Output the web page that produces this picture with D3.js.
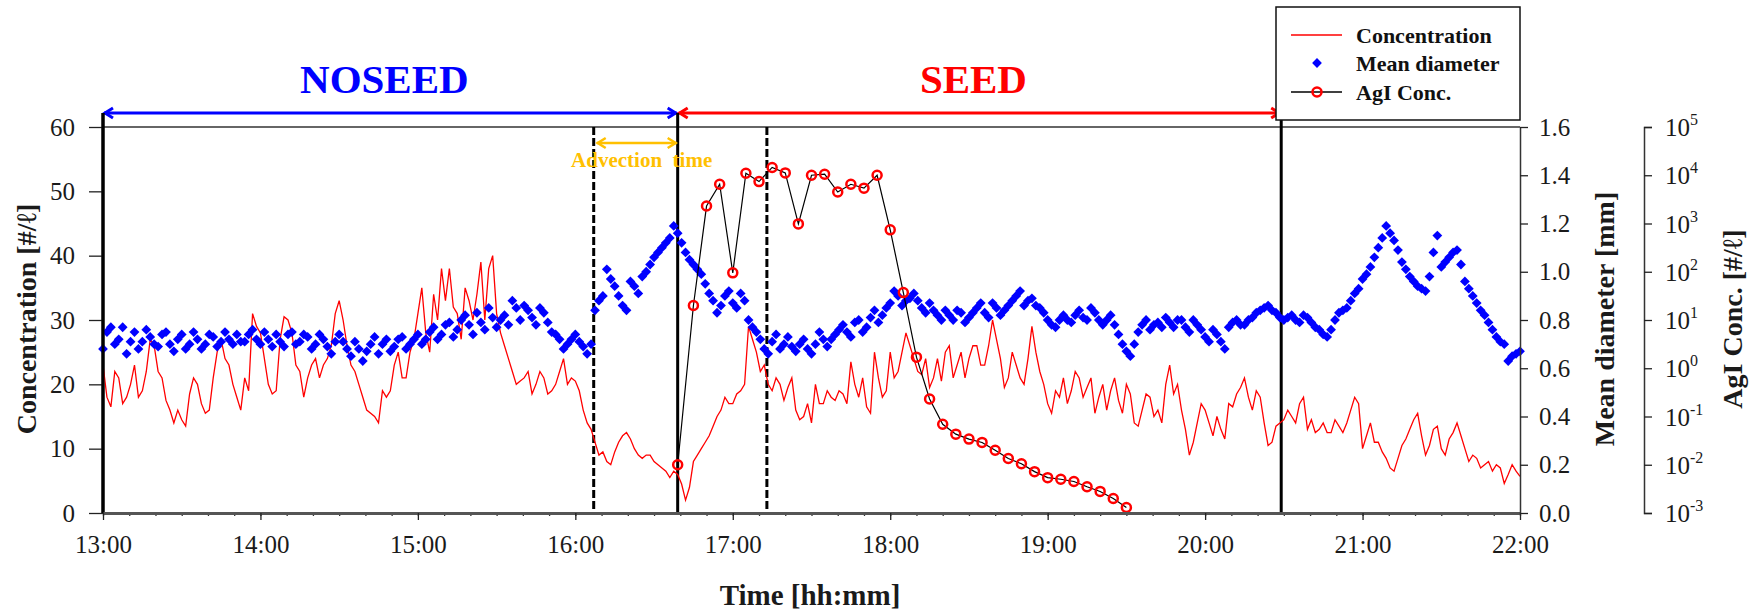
<!DOCTYPE html>
<html>
<head>
<meta charset="utf-8">
<script src="https://cdn.jsdelivr.net/npm/d3@7"></script>
<style>
body { margin:0; background:#fff; }
svg { display:block; }
</style>
</head>
<body>
<script>
// seeding experiment chart, d3 v7
var w = 1758, h = 610;
var m = {left:103, right:1520, top:127, bottom:513};
var serif = "'Liberation Serif','Times New Roman',serif";

// time axis
var timeStart = "13:00", timeEnd = "22:00";
var stepMin = 3; // spacing of the on-step samples; the *Mid arrays sit half way between
var hourTicks = ["13:00","14:00","15:00","16:00","17:00","18:00","19:00","20:00","21:00","22:00"];

// Concentration [#/l], samples at 13:00, 13:03, ...
var concentration = [
  23,16.5,21,18,23,19,27,22,17.5,14,
  14.5,18.5,20,15.5,21,27,23,18,21,31,
  28,20,19,30.5,28,22,21,24,23,26,
  33,26,22,18,15.5,14,18,23,21,25,
  31,28,34,38,38,31,35,30,39,38,
  31,26,22,20.5,22,20,21,19,22,20,
  20.5,16,13,9,8,9.5,12,11.5,9,9,
  8,7,5.5,6,2,8,10,12,15,18,
  17,19,29,25,23,19,20,19.5,16,15,
  14,17,19,17.5,18.5,23.5,18,16.5,25,18,
  25,22,28,24,21.5,19.5,24,25,21,25,
  24,26,23,30,24,21,23,20,29,22,
  17,19,21,19,21,19.5,15.5,20,19,17.5,
  20,14,16,18,16,20,18.5,16,9,14,
  16,12,13,17,18.5,21,16,18,10.5,13.5,
  14.5,15,17,13,12.5,14,12.5,13.5,14,18,
  10,14,11,8.5,6.5,10.5,13,15.5,9,13,
  10,11.5,14,10,9,7,8,7.5,4.6,7.5,
  5.7
];
// Concentration at 13:01:30, 13:04:30, ...
var concentrationMid = [
  18,22,17,20,18,22,26,21,16,16,
  13.5,21,17,16,25,24,20,16,19,29,
  24,18.5,27,30,23,18,23,21,24,31,
  30,23,20,16,15,19,19,25,21,27,
  35,25,30,33,32,27,33,34,30,40,
  28,24,20,21,18.5,22,18.5,20,24,21,
  19,14,11,9.5,7.5,11,12.5,10,8.5,9,
  7.5,6.5,6.5,4.5,4,9,11,13.5,16,17,
  18.5,20,27,22,20,21,17.5,21,14.5,17,
  20,17,18,19,17,20,21,15.5,21,19,
  21,25,26,22,24,21,20.5,26,23,21,
  26,23,26,27,19.5,25,21,24,25,20,
  15.5,18,17,22,18,21,18,16,21,15.5,
  18.5,13.5,18.5,15,14,23,20,13,11,17,
  14,15,11.5,16.5,19.5,18,19,14,11,14,
  16,14,18,14.5,13,12.5,14.5,12.5,16,17,
  12,11,9.5,7,8.5,11.5,14.5,12,10.5,13.5,
  9,12.5,12,8,8.5,7.5,6.5,7,6,6.5
];

// Mean diameter [mm], samples at 13:00, 13:03, ...
var meanDiameter = [
  0.68,0.77,0.72,0.66,0.75,0.71,0.73,0.69,0.75,0.67,
  0.74,0.70,0.72,0.70,0.73,0.71,0.72,0.74,0.71,0.76,
  0.70,0.72,0.74,0.69,0.75,0.71,0.73,0.70,0.72,0.66,
  0.74,0.68,0.71,0.63,0.70,0.66,0.72,0.69,0.73,0.70,
  0.74,0.72,0.77,0.74,0.79,0.76,0.82,0.74,0.79,0.85,
  0.77,0.82,0.88,0.80,0.84,0.78,0.83,0.75,0.72,0.70,
  0.74,0.69,0.70,0.88,1.01,0.94,0.86,0.96,0.91,1.00,
  1.06,1.10,1.14,1.16,1.08,1.03,0.99,0.91,0.83,0.90,
  0.87,0.91,0.80,0.75,0.68,0.71,0.68,0.73,0.67,0.72,
  0.66,0.75,0.69,0.74,0.78,0.73,0.80,0.77,0.84,0.82,
  0.87,0.90,0.88,0.91,0.85,0.87,0.82,0.84,0.80,0.83,
  0.81,0.85,0.83,0.87,0.82,0.86,0.90,0.86,0.89,0.85,
  0.80,0.77,0.82,0.79,0.84,0.80,0.83,0.78,0.82,0.74,
  0.67,0.70,0.78,0.76,0.79,0.81,0.77,0.80,0.75,0.78,
  0.73,0.76,0.71,0.77,0.80,0.78,0.81,0.84,0.86,0.83,
  0.80,0.82,0.79,0.81,0.77,0.74,0.76,0.83,0.85,0.91,
  0.97,1.02,1.10,1.19,1.13,1.04,0.98,0.94,0.92,1.08,
  1.02,1.06,1.09,0.96,0.90,0.84,0.79,0.73,0.70,0.65,
  0.67
];
// Mean diameter at 13:01:30, 13:04:30, ...
var meanDiameterMid = [
  0.75,0.70,0.77,0.71,0.68,0.76,0.70,0.74,0.70,0.72,
  0.68,0.75,0.68,0.74,0.69,0.75,0.70,0.71,0.74,0.72,
  0.75,0.69,0.71,0.74,0.70,0.74,0.68,0.74,0.69,0.71,
  0.71,0.65,0.68,0.67,0.73,0.70,0.67,0.72,0.68,0.72,
  0.70,0.75,0.72,0.78,0.73,0.80,0.78,0.83,0.76,0.81,
  0.80,0.78,0.85,0.86,0.81,0.85,0.79,0.74,0.68,0.72,
  0.71,0.66,0.84,0.90,0.97,0.90,0.84,0.94,0.98,1.03,
  1.08,1.12,1.19,1.12,1.05,1.01,0.95,0.88,0.86,0.92,
  0.85,0.88,0.77,0.72,0.66,0.74,0.70,0.69,0.70,0.68,
  0.70,0.72,0.72,0.76,0.75,0.79,0.75,0.81,0.79,0.85,
  0.92,0.86,0.89,0.88,0.83,0.84,0.80,0.82,0.84,0.79,
  0.83,0.87,0.81,0.85,0.84,0.88,0.92,0.88,0.86,0.83,
  0.78,0.80,0.80,0.82,0.81,0.85,0.80,0.80,0.78,0.70,
  0.65,0.75,0.80,0.78,0.77,0.79,0.80,0.77,0.80,0.76,
  0.71,0.74,0.68,0.79,0.78,0.80,0.83,0.85,0.84,0.81,
  0.81,0.80,0.82,0.79,0.76,0.73,0.80,0.84,0.88,0.93,
  0.99,1.06,1.14,1.16,1.09,1.01,0.96,0.93,0.98,1.15,
  1.04,1.08,1.03,0.93,0.87,0.82,0.76,0.71,0.63,0.66
];

// AgI concentration [#/l]
var agiTimes = ["16:39","16:45","16:50","16:55","17:00","17:05","17:10","17:15","17:20","17:25",
  "17:30","17:35","17:40","17:45","17:50","17:55","18:00","18:05","18:10","18:15",
  "18:20","18:25","18:30","18:35","18:40","18:45","18:50","18:55","19:00","19:05",
  "19:10","19:15","19:20","19:25","19:30"];
var agiConc = [0.01,20,2300,6500,95,11000,7400,14500,11200,980,
  10000,10500,4500,6500,5400,10000,740,37,1.7,0.23,
  0.069,0.043,0.034,0.029,0.020,0.0135,0.0105,0.0072,0.0054,0.0050,
  0.0045,0.0035,0.0028,0.0020,0.0013];

var concTicks = [0,10,20,30,40,50,60];
var diamTicks = [0,0.2,0.4,0.6,0.8,1.0,1.2,1.4,1.6];
var agiExp = [-3,-2,-1,0,1,2,3,4,5];

// period markers
var markerTimes = ["13:00","16:07","16:39","17:13","20:29"];
var markerKinds = ["solid","dash","solid","dash","solid"];
var periods = [
  {label:"NOSEED", from:"13:00", to:"16:39", color:"#0000FF"},
  {label:"SEED", from:"16:39", to:"20:29", color:"#FF0000"}
];
var advection = {label:"Advection  time", from:"16:07", to:"16:39", color:"#FFC000"};

var legendItems = ["Concentration","Mean diameter","AgI Conc."];

var parseT = d3.timeParse("%H:%M");
var t0 = parseT(timeStart);

// merge on-step and half-step samples into one time ordered table
function merged(onStep, mid){
  var out = [];
  onStep.forEach(function(v,i){
    out.push({t:d3.timeSecond.offset(t0, i*stepMin*60), v:v});
    if (i < mid.length) out.push({t:d3.timeSecond.offset(t0, i*stepMin*60 + stepMin*30), v:mid[i]});
  });
  return out;
}
var concData = merged(concentration, concentrationMid);
var diamData = merged(meanDiameter, meanDiameterMid);

var x = d3.scaleTime().domain([t0, parseT(timeEnd)]).range([m.left, m.right]);
var yC = d3.scaleLinear().domain([0,60]).range([m.bottom, m.top]);
var yD = d3.scaleLinear().domain([0,1.6]).range([m.bottom, m.top]);
var yA = d3.scaleLog().domain([1e-3,1e5]).range([m.bottom, m.top]);

var svg = d3.select("body").append("svg").attr("width",w).attr("height",h);

// top frame line
svg.append("line")
  .attr("x1",m.left).attr("x2",m.right).attr("y1",m.top).attr("y2",m.top)
  .attr("stroke","#333").attr("stroke-width",1.5);

// arrows drawn as line + open heads
function arrow(x1, x2, y, color, sw){
  var g = svg.append("g").attr("stroke",color).attr("stroke-width",sw).attr("fill","none");
  g.append("line").attr("x1",x1).attr("x2",x2).attr("y1",y).attr("y2",y);
  g.append("polyline").attr("points",[[x1+9,y-5],[x1+1,y],[x1+9,y+5]].join(" "));
  g.append("polyline").attr("points",[[x2-9,y-5],[x2-1,y],[x2-9,y+5]].join(" "));
}
var arrowY = 113;
periods.forEach(function(p){
  var x1 = x(parseT(p.from)), x2 = x(parseT(p.to));
  arrow(x1+1, x2-1, arrowY, p.color, 3);
  svg.append("text").attr("x",(x1+x2)/2 - 6).attr("y",93)
    .attr("text-anchor","middle").attr("font-size","41px").attr("font-weight","bold")
    .attr("fill",p.color).text(p.label);
});

// vertical period markers
markerTimes.forEach(function(t,i){
  var xx = x(parseT(t));
  svg.append("line")
    .attr("x1",xx).attr("x2",xx)
    .attr("y1", markerKinds[i]=="solid" ? arrowY : m.top)
    .attr("y2",m.bottom)
    .attr("stroke","#000")
    .attr("stroke-width",3)
    .attr("stroke-dasharray", markerKinds[i]=="dash" ? "8,3" : null);
});

// advection time arrow
(function(){
  var x1 = x(parseT(advection.from)), x2 = x(parseT(advection.to));
  arrow(x1+3, x2-1, 143, advection.color, 2.5);
  svg.append("text").attr("x",(x1+x2)/2+6).attr("y",167)
    .attr("text-anchor","middle").attr("font-size","21px").attr("font-weight","bold")
    .style("white-space","pre")
    .attr("fill",advection.color).text(advection.label);
})();

// concentration line
var line = d3.line()
  .x(function(d){ return x(d.t); })
  .y(function(d){ return yC(d.v); });
svg.append("path").datum(concData)
  .attr("d",line).attr("fill","none").attr("stroke","#FF0000").attr("stroke-width",1.3);

// mean diameter diamonds
var diamond = d3.symbol().type(d3.symbolSquare).size(48);
svg.selectAll("path.dia").data(diamData).enter()
  .append("path").attr("class","dia")
  .attr("d",diamond)
  .attr("transform",function(d){ return "translate("+x(d.t)+","+yD(d.v)+") rotate(45)"; })
  .attr("fill","#0000FF");

// AgI line + open circles
var agiLine = d3.line()
  .x(function(d,i){ return x(parseT(agiTimes[i])); })
  .y(function(d){ return yA(d); });
svg.append("path").datum(agiConc)
  .attr("d",agiLine).attr("fill","none").attr("stroke","#000").attr("stroke-width",1.2);
svg.selectAll("circle.agi").data(agiConc).enter()
  .append("circle").attr("class","agi")
  .attr("cx",function(d,i){ return x(parseT(agiTimes[i])); })
  .attr("cy",function(d){ return yA(d); })
  .attr("r",4.5)
  .attr("fill","none").attr("stroke","#FF0000").attr("stroke-width",2.5);

// axes
function styleAxis(g, size){
  g.attr("font-family",null).attr("font-size",null);
  g.selectAll("text").attr("font-size",size).attr("fill","#1a1a1a");
  g.selectAll("line").attr("stroke","#222").attr("stroke-width",1.3);
}
var gL = svg.append("g").attr("transform","translate("+m.left+",0)")
  .call(d3.axisLeft(yC).tickValues(concTicks).tickSize(14).tickPadding(14).tickSizeOuter(0));
styleAxis(gL,"25px");
gL.select(".domain").remove();
svg.append("line").attr("x1",m.left).attr("x2",m.left).attr("y1",arrowY).attr("y2",m.bottom)
  .attr("stroke","#000").attr("stroke-width",3);

var gBm = svg.append("g").attr("transform","translate(0,"+m.bottom+")")
  .call(d3.axisBottom(x).ticks(d3.timeMinute.every(10)).tickSize(3).tickFormat("").tickSizeOuter(0));
gBm.selectAll("line").attr("stroke","#333").attr("stroke-width",1.3);
gBm.select(".domain").remove();
var gB = svg.append("g").attr("transform","translate(0,"+m.bottom+")")
  .call(d3.axisBottom(x).tickValues(hourTicks.map(parseT)).tickFormat(d3.timeFormat("%H:%M"))
    .tickSize(7).tickPadding(15).tickSizeOuter(0));
styleAxis(gB,"25px");
gB.select(".domain").attr("stroke","#555").attr("stroke-width",3);

var gR = svg.append("g").attr("transform","translate("+m.right+",0)")
  .call(d3.axisRight(yD).tickValues(diamTicks).tickFormat(d3.format(".1f"))
    .tickSize(8).tickPadding(11).tickSizeOuter(0));
styleAxis(gR,"25px");
gR.select(".domain").attr("stroke","#333").attr("stroke-width",1.5);

var agiX = 1644;
var gA = svg.append("g").attr("transform","translate("+agiX+",0)")
  .call(d3.axisRight(yA).tickValues(agiExp.map(function(e){ return Math.pow(10,e); }))
    .tickFormat("").tickSize(8).tickSizeOuter(8));
styleAxis(gA,"25px");
gA.select(".domain").attr("stroke","#333").attr("stroke-width",1.5);
agiExp.forEach(function(e){
  var t = svg.append("text").attr("x",agiX+21).attr("y",yA(Math.pow(10,e))+9)
    .attr("font-size","25px").attr("fill","#1a1a1a");
  t.append("tspan").text("10");
  t.append("tspan").attr("dy",-11).attr("font-size","16px").text(e);
});

// axis titles
function vTitle(xx, yy, txt){
  svg.append("text").attr("transform","translate("+xx+","+yy+") rotate(-90)")
    .attr("text-anchor","middle").attr("font-size","28px").attr("font-weight","bold")
    .attr("fill","#1a1a1a").text(txt);
}
vTitle(36, 319, "Concentration [#/\u2113]");
vTitle(1614, 319, "Mean diameter [mm]");
vTitle(1742, 319, "AgI Conc. [#/\u2113]");
svg.append("text").attr("x",810).attr("y",605).attr("text-anchor","middle")
  .attr("font-size","29px").attr("font-weight","bold").attr("fill","#1a1a1a")
  .text("Time [hh:mm]");

// legend
var lg = svg.append("g");
lg.append("rect").attr("x",1276).attr("y",7).attr("width",244).attr("height",113)
  .attr("fill","#fff").attr("stroke","#111").attr("stroke-width",1.5);
var rowY = [35,63,92];
legendItems.forEach(function(name,i){
  var y = rowY[i];
  if (i==0) {
    lg.append("line").attr("x1",1291).attr("x2",1342).attr("y1",y).attr("y2",y)
      .attr("stroke","#FF0000").attr("stroke-width",1.5);
  } else if (i==1) {
    lg.append("path").attr("d",diamond).attr("transform","translate(1317,"+y+") rotate(45)")
      .attr("fill","#0000FF");
  } else {
    lg.append("line").attr("x1",1291).attr("x2",1342).attr("y1",y).attr("y2",y)
      .attr("stroke","#000").attr("stroke-width",1.3);
    lg.append("circle").attr("cx",1317).attr("cy",y).attr("r",4.5)
      .attr("fill","none").attr("stroke","#FF0000").attr("stroke-width",2.5);
  }
  lg.append("text").attr("x",1356).attr("y",y+8).attr("font-size","22px")
    .attr("font-weight","bold").attr("fill","#111").text(name);
});

// every text in Times style
svg.selectAll("text").style("font-family", serif);
</script>
</body>
</html>
